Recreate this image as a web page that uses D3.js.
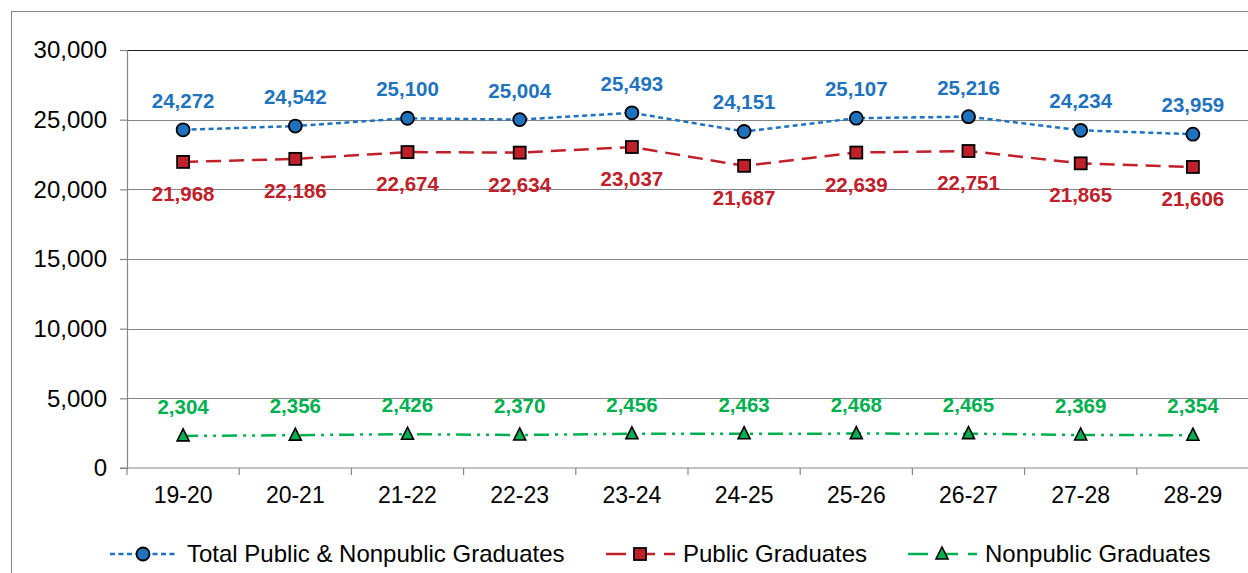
<!DOCTYPE html>
<html>
<head>
<meta charset="utf-8">
<script src="https://cdn.jsdelivr.net/npm/d3@7"></script>
<style>
  body { margin: 0; background: #fff; }
  svg { display: block; font-family: "Liberation Sans", Arial, sans-serif; }
</style>
</head>
<body>
<div id="chart"></div>
<script>
// data
let years = ['19-20', '20-21', '21-22', '22-23', '23-24', '24-25', '25-26', '26-27', '27-28', '28-29'];
let totalGrads = [24272, 24542, 25100, 25004, 25493, 24151, 25107, 25216, 24234, 23959];
let publicGrads = [21968, 22186, 22674, 22634, 23037, 21687, 22639, 22751, 21865, 21606];
let nonpublicGrads = [2304, 2356, 2426, 2370, 2456, 2463, 2468, 2465, 2369, 2354];
let yTicks = [0, 5000, 10000, 15000, 20000, 25000, 30000];

let width = 1248, height = 573;
let margin = {top: 50, right: -1, bottom: 105, left: 127};

let svg = d3.select('#chart').append('svg')
    .attr('width', width)
    .attr('height', height);

// outer frame of the chart (runs off the right and bottom edge)
svg.append('rect')
    .attr('x', 11.5).attr('y', 11.5)
    .attr('width', width + 20).attr('height', height + 20)
    .attr('fill', 'none')
    .attr('stroke', '#858585')
    .attr('stroke-width', 1);

let xScale = d3.scaleBand()
    .domain(years)
    .range([margin.left, width - margin.right]);

let yScale = d3.scaleLinear()
    .domain([0, 30000])
    .range([height - margin.bottom, margin.top]);

let fmt = d3.format(',');

// gridlines
svg.append('g')
  .selectAll('line')
    .data(yTicks.filter((d) => d > 0))
  .enter().append('line')
    .attr('x1', margin.left).attr('x2', width)
    .attr('y1', (d) => Math.round(yScale(d)) + 0.5)
    .attr('y2', (d) => Math.round(yScale(d)) + 0.5)
    .attr('stroke', (d) => d === 30000 ? '#222' : '#868686')
    .attr('stroke-width', 1.2);

// y axis
let yAxis = svg.append('g')
    .attr('transform', 'translate(' + margin.left + ',0)')
    .call(d3.axisLeft(yScale).tickValues(yTicks).tickFormat(fmt).tickSize(7).tickPadding(13));
yAxis.select('.domain').attr('stroke', '#868686').attr('stroke-width', 1.2);
yAxis.selectAll('.tick line').attr('stroke', '#868686').attr('stroke-width', 1.2);
yAxis.selectAll('text').attr('font-size', 24).attr('fill', '#000');

// x axis with ticks between categories
let xAxisY = yScale(0);
let xg = svg.append('g');
xg.append('line')
    .attr('x1', margin.left - 7).attr('x2', width)
    .attr('y1', xAxisY).attr('y2', xAxisY)
    .attr('stroke', '#868686').attr('stroke-width', 1.2);
xg.selectAll('.xtick')
    .data(years)
  .enter().append('line')
    .attr('x1', (d) => xScale(d)).attr('x2', (d) => xScale(d))
    .attr('y1', xAxisY).attr('y2', xAxisY + 7)
    .attr('stroke', '#868686').attr('stroke-width', 1.2);
xg.selectAll('text')
    .data(years)
  .enter().append('text')
    .attr('x', (d) => xScale(d) + xScale.bandwidth() / 2)
    .attr('y', xAxisY + 35)
    .attr('text-anchor', 'middle')
    .attr('font-size', 23)
    .text((d) => d);

let cx = (i) => xScale(years[i]) + xScale.bandwidth() / 2;

let series = [
  {name: 'Total Public & Nonpublic Graduates', values: totalGrads, color: '#1f73be', dash: '5,3.5', width: 2.5, marker: 'circle', labelDy: -22},
  {name: 'Public Graduates', values: publicGrads, color: '#c0202a', dash: '15,8', width: 2.5, marker: 'square', labelDy: 39},
  {name: 'Nonpublic Graduates', values: nonpublicGrads, color: '#00b050', dash: '15,6,3,6,3,6', width: 2.5, marker: 'triangle', labelDy: -22}
];

function drawMarker(g, type, x, y, color) {
  if (type === 'circle') {
    g.append('circle').attr('cx', x).attr('cy', y).attr('r', 6.5)
      .attr('fill', color).attr('stroke', '#000').attr('stroke-width', 1.8);
  } else if (type === 'square') {
    g.append('rect').attr('x', x - 6).attr('y', y - 6).attr('width', 12).attr('height', 12)
      .attr('fill', color).attr('stroke', '#000').attr('stroke-width', 1.8);
  } else {
    g.append('path').attr('d', 'M' + x + ',' + (y - 7) + 'L' + (x + 6) + ',' + (y + 5) + 'L' + (x - 6) + ',' + (y + 5) + 'Z')
      .attr('fill', color).attr('stroke', '#000').attr('stroke-width', 1.6);
  }
}

let line = d3.line()
    .x((d, i) => cx(i))
    .y((d) => yScale(d));

series.forEach((s) => {
  let g = svg.append('g');
  g.append('path')
      .datum(s.values)
      .attr('d', line)
      .attr('fill', 'none')
      .attr('stroke', s.color)
      .attr('stroke-width', s.width)
      .attr('stroke-dasharray', s.dash);
  s.values.forEach((v, i) => drawMarker(g, s.marker, cx(i), yScale(v), s.color));
  g.selectAll('text')
      .data(s.values)
    .enter().append('text')
      .attr('x', (d, i) => cx(i))
      .attr('y', (d) => yScale(d) + s.labelDy)
      .attr('text-anchor', 'middle')
      .attr('font-size', 20.5)
      .attr('font-weight', 'bold')
      .attr('fill', s.color)
      .text((d) => fmt(d));
});

// legend
let legendY = 554;
let legendItems = [
  {x1: 110, x2: 178, mx: 143, tx: 187},
  {x1: 606, x2: 675, mx: 640, tx: 683},
  {x1: 908, x2: 977, mx: 942, tx: 985}
];
let legendDash = ['5,3.5', '20,9', '20,10'];
series.forEach((s, i) => {
  let li = legendItems[i];
  let g = svg.append('g');
  g.append('line')
      .attr('x1', li.x1).attr('x2', li.x2)
      .attr('y1', legendY).attr('y2', legendY)
      .attr('stroke', s.color)
      .attr('stroke-width', s.width)
      .attr('stroke-dasharray', legendDash[i]);
  drawMarker(g, s.marker, li.mx, legendY, s.color);
  g.append('text')
      .attr('x', li.tx)
      .attr('y', legendY + 8)
      .attr('font-size', 24)
      .text(s.name);
});
</script>
</body>
</html>
